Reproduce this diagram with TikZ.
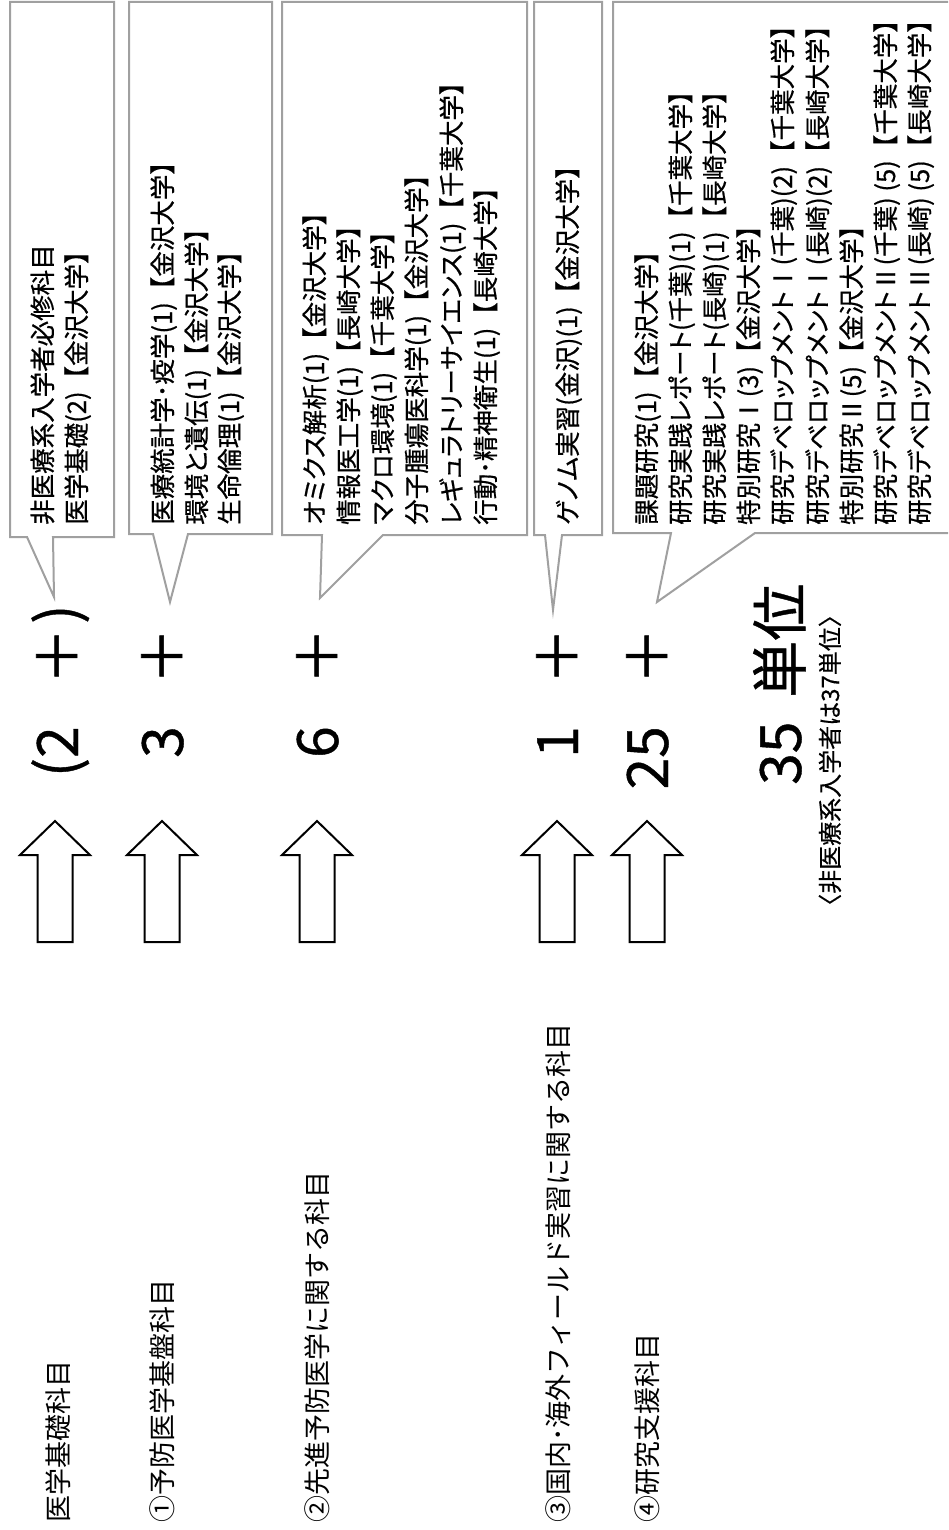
\documentclass[tikz,border=0pt]{standalone}
\usepackage{fontspec}
\setmainfont{Noto Sans CJK JP}
\newfontfamily\boxfont{Noto Sans CJK JP}[RawFeature=+palt, FakeBold=0.6]
\newfontfamily\fwfont{Noto Sans CJK JP}[FakeBold=0.6]
\newfontfamily\heavyfont{Noto Sans CJK JP}[FakeBold=1.2]
\newfontfamily\bigfont{Noto Sans CJK JP}[FakeBold=0.7]
\newfontfamily\notefont{Noto Sans CJK JP}[FakeBold=0.4]
\newcommand\LB{{\fwfont 【}}
\newcommand\RB{{\fwfont 】}}
\definecolor{boxgray}{HTML}{A0A0A0}
\tikzset{
  callout/.style={draw=boxgray, line width=2pt, fill=white, line join=miter},
  blockarrow/.style={draw=black, line width=2pt, fill=white, line join=miter},
  boxtext/.style={rotate=90, anchor=base west, inner sep=0pt, font=\boxfont\fontsize{25.5}{25.5}\selectfont},
  rowlabel/.style={rotate=90, anchor=base west, inner sep=0pt, font=\fontsize{27}{27}\selectfont},
  bignum/.style={rotate=90, anchor=base east, inner sep=0pt, font=\bigfont\fontsize{57}{57}\selectfont},
  bigtotal/.style={rotate=90, anchor=base west, inner sep=0pt, font=\bigfont\fontsize{57}{57}\selectfont},
  plussign/.style={rotate=90, anchor=center, inner sep=0pt, font=\heavyfont\fontsize{56}{56}\selectfont},
  notetext/.style={rotate=90, anchor=base west, inner sep=0pt, font=\notefont\fontsize{24}{24}\selectfont},
  uparrow/.pic={\draw[blockarrow] (-17.5,942) -- (17.5,942) -- (17.5,855) -- (35,855) -- (0,821) -- (-35,855) -- (-17.5,855) -- cycle;}
}
\begin{document}
\begin{tikzpicture}[x=1pt,y=-1pt]
\useasboundingbox (0,0) rectangle (948,1530);
\clip (0,0) rectangle (948,1530);
\fill[white] (0,0) rectangle (948,1530);

% callout boxes
\draw[callout] (10,2) -- (114,2) -- (114,537) -- (53,537) -- (54,597) -- (27,537) -- (10,537) -- cycle;
\draw[callout] (129,2) -- (272,2) -- (272,534) -- (188,534) -- (170,602) -- (153,534) -- (129,534) -- cycle;
\draw[callout] (282,2) -- (527,2) -- (527,535) -- (383,535) -- (320,598) -- (322,535) -- (282,535) -- cycle;
\draw[callout] (534,2) -- (602,2) -- (602,535) -- (562,535) -- (553,610) -- (545,535) -- (534,535) -- cycle;
\draw[callout] (613,2) -- (970,2) -- (970,533) -- (755,533) -- (657,602) -- (671,533) -- (613,533) -- cycle;

% box 1
\node[boxtext] (a1) at (52,525) {非医療系入学者必修科目};
\node[boxtext] (a2) at (86,525) {医学基礎(2)\LB 金沢大学\RB};
% box 2
\node[boxtext] (b1) at (172,525) {医療統計学･疫学(1)\LB 金沢大学\RB};
\node[boxtext] (b2) at (206,525) {環境と遺伝(1)\LB 金沢大学\RB};
\node[boxtext] (b3) at (239,525) {生命倫理(1)\LB 金沢大学\RB};
% box 3
\node[boxtext] (c1) at (324,525) {オミクス解析(1)\LB 金沢大学\RB};
\node[boxtext] (c2) at (358,525) {情報医工学(1)\LB 長崎大学\RB};
\node[boxtext] (c3) at (392,525) {マクロ環境(1)\LB 千葉大学\RB};
\node[boxtext] (c4) at (426,525) {分子腫瘍医科学(1)\LB 金沢大学\RB};
\node[boxtext] (c5) at (461,525) {レギュラトリーサイエンス(1)\LB 千葉大学\RB};
\node[boxtext] (c6) at (495,525) {行動･精神衛生(1)\LB 長崎大学\RB};
% box 4
\node[boxtext] (d1) at (577,525) {ゲノム実習(金沢)(1)\LB 金沢大学\RB};
% box 5
\node[boxtext] (e1) at (656,525) {課題研究(1)\LB 金沢大学\RB};
\node[boxtext] (e2) at (690,525) {研究実践レポート(千葉)(1)\LB 千葉大学\RB};
\node[boxtext] (e3) at (724,525) {研究実践レポート(長崎)(1)\LB 長崎大学\RB};
\node[boxtext] (e4) at (758,525) {特別研究Ⅰ(3)\LB 金沢大学\RB};
\node[boxtext] (e5) at (792,525) {研究デベロップメントⅠ(千葉)(2)\LB 千葉大学\RB};
\node[boxtext] (e6) at (827,525) {研究デベロップメントⅠ(長崎)(2)\LB 長崎大学\RB};
\node[boxtext] (e7) at (861,525) {特別研究Ⅱ(5)\LB 金沢大学\RB};
\node[boxtext] (e8) at (895,525) {研究デベロップメントⅡ(千葉) (5)\LB 千葉大学\RB};
\node[boxtext] (e9) at (929,525) {研究デベロップメントⅡ(長崎) (5)\LB 長崎大学\RB};

% closing paren and plus signs
\node[bigtotal] (cp) at (78,624) {)};
\node[plussign] (p0) at (57,656) {＋};
\node[plussign] (p1) at (162,656) {＋};
\node[plussign] (p2) at (317,656) {＋};
\node[plussign] (p3) at (557,656) {＋};
\node[plussign] (p4) at (647,656) {＋};

% numbers
\node[bignum] (n0) at (78,726) {(2};
\node[bignum] (n1) at (183,726) {3};
\node[bignum] (n2) at (338,726) {6};
\node[bignum] (n3) at (578,726) {1};
\node[bignum] (n4) at (668,726) {25};

% arrows
\pic at (55,0) {uparrow};
\pic at (162,0) {uparrow};
\pic at (317,0) {uparrow};
\pic at (557,0) {uparrow};
\pic at (647,0) {uparrow};

% total
\node[bigtotal] (tot) at (801,785) {35\hspace{0.42em}単位};
\node[notetext] (tnote) at (839,918) {〈非医療系入学者は37単位〉};

% row labels
\node[rowlabel] (l0) at (68,1523) {医学基礎科目};
\node[rowlabel] (l1) at (172,1523) {①予防医学基盤科目};
\node[rowlabel] (l2) at (327,1523) {②先進予防医学に関する科目};
\node[rowlabel] (l3) at (568,1523) {③国内･海外フィールド実習に関する科目};
\node[rowlabel] (l4) at (657,1523) {④研究支援科目};
\end{tikzpicture}
\end{document}
